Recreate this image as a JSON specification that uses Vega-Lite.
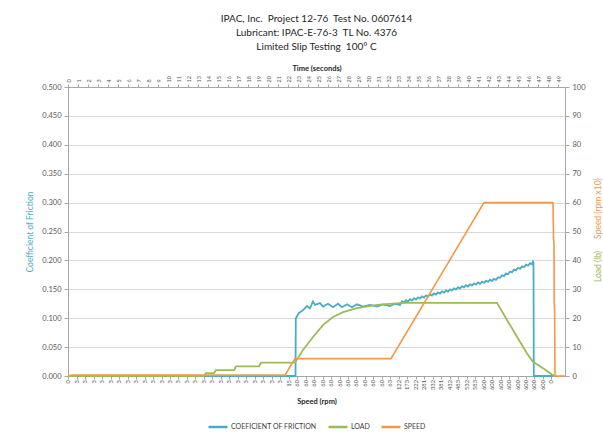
{
  "$schema": "https://vega.github.io/schema/vega-lite/v6.json",
  "width": 497,
  "height": 289,
  "autosize": {"type": "none"},
  "padding": {"left": 68, "top": 87, "right": 38, "bottom": 59},
  "background": "white",
  "config": {
    "font": "Lato",
    "view": {"stroke": null},
    "axis": {
      "labelFont": "Lato",
      "titleFont": "Lato",
      "labelColor": "#595959",
      "titleColor": "#404040",
      "domainColor": "#a6a6a6",
      "tickColor": "#a6a6a6",
      "gridColor": "#d9d9d9",
      "grid": false
    },
    "legend": {"labelFont": "Lato"}
  },
  "title": {
    "text": ["IPAC, Inc.\u00a0\u00a0Project 12-76\u00a0\u00a0Test No. 0607614", "Lubricant: IPAC-E-76-3\u00a0\u00a0TL No. 4376", "Limited Slip Testing\u00a0\u00a0100° C"],
    "anchor": "middle",
    "frame": "group",
    "fontSize": 10,
    "fontWeight": "normal",
    "lineHeight": 14,
    "color": "#262626",
    "offset": 13
  },
  "datasets": {
    "cof": [
      {"t": 0, "v": 0}, {"t": 22.75, "v": 0}, {"t": 22.78, "v": 0.100}, {"t": 23.1, "v": 0.109}, {"t": 23.5, "v": 0.114},
      {"t": 23.9, "v": 0.121}, {"t": 24.2, "v": 0.117}, {"t": 24.5, "v": 0.129}, {"t": 24.7, "v": 0.123}, {"t": 25.2, "v": 0.126},
      {"t": 25.5, "v": 0.120}, {"t": 26.0, "v": 0.125}, {"t": 26.5, "v": 0.119}, {"t": 27.0, "v": 0.125}, {"t": 27.4, "v": 0.119},
      {"t": 27.9, "v": 0.124}, {"t": 28.4, "v": 0.119}, {"t": 28.9, "v": 0.124}, {"t": 29.5, "v": 0.120}, {"t": 30.2, "v": 0.123},
      {"t": 30.9, "v": 0.120}, {"t": 31.5, "v": 0.124}, {"t": 32.2, "v": 0.121}, {"t": 32.7, "v": 0.125}, {"t": 33.2, "v": 0.123},
      {"t": 33.4, "v": 0.1294}, {"t": 33.6, "v": 0.1272}, {"t": 33.8, "v": 0.1311}, {"t": 34.0, "v": 0.1289}, {"t": 34.2, "v": 0.1328},
      {"t": 34.4, "v": 0.1306}, {"t": 34.6, "v": 0.1345}, {"t": 34.8, "v": 0.1323}, {"t": 35.0, "v": 0.1361}, {"t": 35.2, "v": 0.1340},
      {"t": 35.4, "v": 0.1378}, {"t": 35.6, "v": 0.1357}, {"t": 35.8, "v": 0.1395}, {"t": 36.0, "v": 0.1374}, {"t": 36.2, "v": 0.1412},
      {"t": 36.4, "v": 0.1391}, {"t": 36.6, "v": 0.1429}, {"t": 36.8, "v": 0.1408}, {"t": 37.0, "v": 0.1447}, {"t": 37.2, "v": 0.1426},
      {"t": 37.4, "v": 0.1465}, {"t": 37.6, "v": 0.1443}, {"t": 37.8, "v": 0.1482}, {"t": 38.0, "v": 0.1461}, {"t": 38.2, "v": 0.1500},
      {"t": 38.4, "v": 0.1479}, {"t": 38.6, "v": 0.1517}, {"t": 38.8, "v": 0.1496}, {"t": 39.0, "v": 0.1535}, {"t": 39.2, "v": 0.1514},
      {"t": 39.4, "v": 0.1553}, {"t": 39.6, "v": 0.1532}, {"t": 39.8, "v": 0.1571}, {"t": 40.0, "v": 0.1549}, {"t": 40.2, "v": 0.1587},
      {"t": 40.4, "v": 0.1565}, {"t": 40.6, "v": 0.1603}, {"t": 40.8, "v": 0.1581}, {"t": 41.0, "v": 0.1618}, {"t": 41.2, "v": 0.1596},
      {"t": 41.4, "v": 0.1634}, {"t": 41.6, "v": 0.1612}, {"t": 41.8, "v": 0.1650}, {"t": 42.0, "v": 0.1628}, {"t": 42.2, "v": 0.1666},
      {"t": 42.4, "v": 0.1644}, {"t": 42.6, "v": 0.1681}, {"t": 42.8, "v": 0.1663}, {"t": 43.0, "v": 0.1709}, {"t": 43.2, "v": 0.1696},
      {"t": 43.4, "v": 0.1742}, {"t": 43.6, "v": 0.1728}, {"t": 43.8, "v": 0.1775}, {"t": 44.0, "v": 0.1761}, {"t": 44.2, "v": 0.1808},
      {"t": 44.4, "v": 0.1794}, {"t": 44.6, "v": 0.1840}, {"t": 44.8, "v": 0.1827}, {"t": 45.0, "v": 0.1872}, {"t": 45.2, "v": 0.1855},
      {"t": 45.4, "v": 0.1898}, {"t": 45.6, "v": 0.1882}, {"t": 45.8, "v": 0.1925}, {"t": 46.0, "v": 0.1908}, {"t": 46.2, "v": 0.1952},
      {"t": 46.4, "v": 0.1935}, {"t": 46.5, "v": 0.198}, {"t": 46.55, "v": 0.196}, {"t": 46.58, "v": 0}, {"t": 48.5, "v": 0}
    ],
    "load": [
      {"t": 0, "v": 0}, {"t": 13.6, "v": 0}, {"t": 13.8, "v": 1.0}, {"t": 14.6, "v": 1.0}, {"t": 14.8, "v": 2.0},
      {"t": 16.6, "v": 2.0}, {"t": 16.8, "v": 3.3}, {"t": 19.1, "v": 3.3}, {"t": 19.3, "v": 4.6}, {"t": 22.7, "v": 4.6},
      {"t": 23.5, "v": 9}, {"t": 24.5, "v": 13.5}, {"t": 25.5, "v": 17.6}, {"t": 26.5, "v": 20.4}, {"t": 27.5, "v": 22.1},
      {"t": 28.9, "v": 23.5}, {"t": 30.9, "v": 24.6}, {"t": 33.5, "v": 25.3}, {"t": 42.9, "v": 25.3}, {"t": 43.9, "v": 19.4},
      {"t": 44.9, "v": 13.6}, {"t": 45.9, "v": 7.8}, {"t": 46.5, "v": 4.9}, {"t": 47.5, "v": 2.7}, {"t": 48.4, "v": 0.5},
      {"t": 48.7, "v": 0}
    ],
    "speed": [
      {"t": 0, "v": 0}, {"t": 0.4, "v": 0.3}, {"t": 21.7, "v": 0.3}, {"t": 22.7, "v": 6.0}, {"t": 32.3, "v": 6.0},
      {"t": 41.6, "v": 60}, {"t": 48.5, "v": 60}, {"t": 48.55, "v": 47.5}, {"t": 48.6, "v": 46}, {"t": 48.62, "v": 26},
      {"t": 48.66, "v": 23}, {"t": 48.7, "v": 0}, {"t": 49.7, "v": 0}
    ],
    "speedLabels": [
      {"i": 0, "lab": "0"}, {"i": 1, "lab": "3"}, {"i": 2, "lab": "3"}, {"i": 3, "lab": "3"}, {"i": 4, "lab": "3"},
      {"i": 5, "lab": "3"}, {"i": 6, "lab": "3"}, {"i": 7, "lab": "3"}, {"i": 8, "lab": "3"}, {"i": 9, "lab": "3"},
      {"i": 10, "lab": "3"}, {"i": 11, "lab": "3"}, {"i": 12, "lab": "3"}, {"i": 13, "lab": "3"}, {"i": 14, "lab": "3"},
      {"i": 15, "lab": "3"}, {"i": 16, "lab": "3"}, {"i": 17, "lab": "3"}, {"i": 18, "lab": "3"}, {"i": 19, "lab": "3"},
      {"i": 20, "lab": "3"}, {"i": 21, "lab": "3"}, {"i": 22, "lab": "3"}, {"i": 23, "lab": "3"}, {"i": 24, "lab": "3"},
      {"i": 25, "lab": "3"}, {"i": 26, "lab": "15"}, {"i": 27, "lab": "60"}, {"i": 28, "lab": "60"}, {"i": 29, "lab": "60"},
      {"i": 30, "lab": "60"}, {"i": 31, "lab": "60"}, {"i": 32, "lab": "60"}, {"i": 33, "lab": "60"}, {"i": 34, "lab": "60"},
      {"i": 35, "lab": "60"}, {"i": 36, "lab": "60"}, {"i": 37, "lab": "60"}, {"i": 38, "lab": "63"}, {"i": 39, "lab": "122"},
      {"i": 40, "lab": "173"}, {"i": 41, "lab": "222"}, {"i": 42, "lab": "281"}, {"i": 43, "lab": "332"}, {"i": 44, "lab": "381"},
      {"i": 45, "lab": "432"}, {"i": 46, "lab": "483"}, {"i": 47, "lab": "532"}, {"i": 48, "lab": "583"}, {"i": 49, "lab": "600"},
      {"i": 50, "lab": "600"}, {"i": 51, "lab": "600"}, {"i": 52, "lab": "600"}, {"i": 53, "lab": "600"}, {"i": 54, "lab": "600"},
      {"i": 55, "lab": "600"}, {"i": 56, "lab": "600"}, {"i": 57, "lab": "0"}
    ]
  },
  "layer": [
    {
      "data": {"name": "cof"},
      "mark": {"type": "line", "strokeWidth": 1.8, "interpolate": "linear"},
      "encoding": {
        "x": {
          "field": "t", "type": "quantitative",
          "scale": {"domain": [0, 49.7], "nice": false, "zero": false},
          "axis": {
            "orient": "top", "title": "Time (seconds)", "titleFontSize": 7.5, "titleFontWeight": "bold", "titleColor": "#262626", "titlePadding": 3,
            "values": [0,1,2,3,4,5,6,7,8,9,10,11,12,13,14,15,16,17,18,19,20,21,22,23,24,25,26,27,28,29,30,31,32,33,34,35,36,37,38,39,40,41,42,43,44,45,46,47,48,49],
            "labelAngle": 270, "labelAlign": "left", "labelBaseline": "middle", "labelFontSize": 5.5, "labelPadding": 2,
            "labelOverlap": false, "tickSize": 3, "labelFlush": false
          }
        },
        "y": {
          "field": "v", "type": "quantitative",
          "scale": {"domain": [0, 0.5], "nice": false},
          "axis": {
            "orient": "left", "title": "Coefficient of Friction", "titleColor": "#4bacc6", "titleFontSize": 8.5, "titleFontWeight": "normal",
            "values": [0, 0.05, 0.1, 0.15, 0.2, 0.25, 0.3, 0.35, 0.4, 0.45, 0.5], "format": ".3f",
            "labelFontSize": 7.5, "tickSize": 4, "labelPadding": 3, "titlePadding": 7,
            "grid": true, "gridColor": "#d9d9d9", "gridWidth": 1.2
          }
        },
        "color": {
          "datum": "COEFICIENT OF FRICTION",
          "scale": {"domain": ["COEFICIENT OF FRICTION", "LOAD", "SPEED"], "range": ["#4bacc6", "#9bbb59", "#f79646"]},
          "legend": {
            "title": null, "orient": "none", "legendX": 139, "legendY": 329, "direction": "horizontal", "symbolType": "stroke", "symbolStrokeWidth": 2.5,
            "symbolSize": 361, "labelFontSize": 7, "labelColor": "#404040", "labelOffset": 2, "columnPadding": 6
          }
        }
      }
    },
    {
      "data": {"name": "load"},
      "mark": {"type": "line", "strokeWidth": 1.8},
      "encoding": {
        "x": {"field": "t", "type": "quantitative", "scale": {"domain": [0, 49.7], "nice": false, "zero": false}, "axis": null},
        "y": {
          "field": "v", "type": "quantitative", "scale": {"domain": [0, 100], "nice": false},
          "axis": {
            "orient": "right", "labels": false, "ticks": false, "domain": false, "grid": false,
            "title": "Load (lb)", "titleColor": "#9bbb59", "titleFontSize": 8.5, "titleFontWeight": "normal",
            "titleAngle": 270, "titleX": 32, "titleY": 179, "titleAlign": "center", "titleBaseline": "middle"
          }
        },
        "color": {"datum": "LOAD"}
      }
    },
    {
      "data": {"name": "speed"},
      "mark": {"type": "line", "strokeWidth": 1.6},
      "encoding": {
        "x": {"field": "t", "type": "quantitative", "scale": {"domain": [0, 49.7], "nice": false, "zero": false}, "axis": null},
        "y": {
          "field": "v", "type": "quantitative", "scale": {"domain": [0, 100], "nice": false},
          "axis": {
            "orient": "right", "values": [0, 10, 20, 30, 40, 50, 60, 70, 80, 90, 100], "labelFontSize": 7.5, "tickSize": 4, "labelPadding": 3,
            "title": "Speed (rpm x10)", "titleColor": "#f79646", "titleFontSize": 8.5, "titleFontWeight": "normal",
            "titleAngle": 270, "titleX": 32, "titleY": 121, "titleAlign": "center", "titleBaseline": "middle"
          }
        },
        "color": {"datum": "SPEED"}
      }
    },
    {
      "data": {"name": "speedLabels"},
      "mark": {"type": "text", "angle": 270, "align": "right", "baseline": "middle", "fontSize": 5.8, "color": "#595959", "yOffset": 4},
      "encoding": {
        "x": {
          "field": "i", "type": "quantitative", "scale": {"domain": [-0.03, 58.6], "nice": false, "zero": false},
          "axis": {
            "orient": "bottom", "labels": false, "tickSize": 3,
            "values": [0,1,2,3,4,5,6,7,8,9,10,11,12,13,14,15,16,17,18,19,20,21,22,23,24,25,26,27,28,29,30,31,32,33,34,35,36,37,38,39,40,41,42,43,44,45,46,47,48,49,50,51,52,53,54,55,56,57],
            "title": "Speed (rpm)", "titleFontSize": 7.5, "titleFontWeight": "bold", "titleColor": "#262626", "titlePadding": 18
          }
        },
        "y": {"datum": 0, "type": "quantitative", "scale": {"domain": [0, 1]}, "axis": null},
        "text": {"field": "lab"}
      }
    }
  ],
  "resolve": {
    "scale": {"x": "independent", "y": "independent"},
    "axis": {"x": "independent", "y": "independent"}
  }
}
